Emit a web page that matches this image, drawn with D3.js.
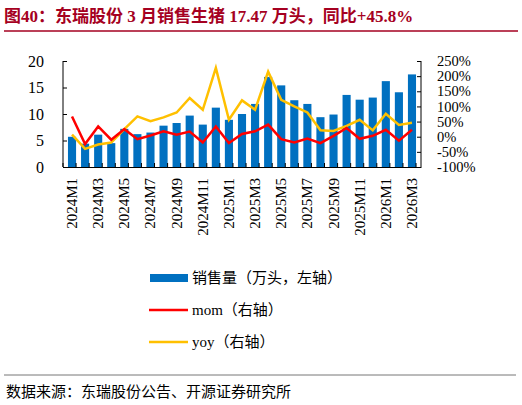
<!DOCTYPE html>
<html><head><meta charset="utf-8">
<script src="https://cdn.jsdelivr.net/npm/d3@7"></script>
<style>body{margin:0;background:#fff}text{font-family:"Liberation Serif","Noto Sans CJK SC",serif}</style>
</head><body><script>
var months = [];
[2024, 2025, 2026].forEach(function(y){ for (var m = 1; m <= 12; m++) if (!(y == 2026 && m > 3)) months.push(y + "M" + m); });
var sales = [5.7,4.4,6.1,4.5,7.2,6.2,6.5,7.8,8.3,9.7,8.0,11.2,8.9,10.0,11.9,17.0,15.4,12.6,11.9,9.4,9.9,13.6,12.7,13.1,16.2,14.1,17.47];
var mom = [67,-24,34,-10,25,-8,4,18,7,17,-19,34,-21,9,18,40,-8,-19,-6,-21,3,29,-7,3,23,-13,23];
var yoy = [7,-40,-26,-19,25,67,51,64,80,128,89,227,56,120,89,215,122,100,80,21,19,36,56,21,76,39,45.8];
var leftTicks = [0,5,10,15,20];
var rightTicks = [-100,-50,0,50,100,150,200,250];

var width = 522, height = 405;
var svg = d3.select("body").append("svg").attr("width", width).attr("height", height);

svg.append("text").attr("x", 4).attr("y", 22).attr("fill", "#a50021")
   .style("font-weight", "bold").style("font-size", "17px")
   .text("图40：东瑞股份 3 月销售生猪 17.47 万头，同比+45.8%");
svg.append("line").attr("x1", 4).attr("x2", 518).attr("y1", 31).attr("y2", 31).attr("stroke", "#a50021").attr("stroke-width", 1.5);

var x = d3.scaleBand().domain(months).range([63, 421]).padding(0.38);
var y = d3.scaleLinear().domain([0, 20]).range([167, 61]);
var y2 = d3.scaleLinear().domain([-100, 250]).range([167, 61]);

var g = svg.append("g");
g.selectAll("rect").data(sales).enter().append("rect")
  .attr("x", function(d, i){ return x(months[i]); })
  .attr("y", function(d){ return y(d); })
  .attr("width", x.bandwidth())
  .attr("height", function(d){ return y(0) - y(d); })
  .attr("fill", "#0070c0");

var xa = g.append("g").attr("transform", "translate(0,167)")
  .call(d3.axisBottom(x).tickSize(0).tickFormat(""));
xa.select(".domain").attr("stroke", "#000");
var step = x.step();
months.concat(["end"]).forEach(function(m, i){
  g.append("line").attr("x1", 63 + i * step).attr("x2", 63 + i * step).attr("y1", 167).attr("y2", 163).attr("stroke", "#000");
});
months.forEach(function(m, i){
  if (i % 2 == 0)
    g.append("text").attr("transform", "translate(" + (x(m) + x.bandwidth() / 2 + 5) + ",178) rotate(-90)")
      .attr("text-anchor", "end").style("font-size", "15px").text(m);
});

var ya = g.append("g").attr("transform", "translate(63,0)")
  .call(d3.axisLeft(y).tickValues(leftTicks).tickSize(5).tickPadding(14));
ya.selectAll("line").attr("x2", 4);
ya.selectAll("text").style("font-size", "16px").style("font-family", "Liberation Serif");
ya.select(".domain").attr("d", "M0,61V167");

var yb = g.append("g").attr("transform", "translate(421,0)")
  .call(d3.axisRight(y2).tickValues(rightTicks).tickSize(0).tickPadding(16).tickFormat(function(d){ return d + "%"; }));
yb.selectAll(".tick").append("line").attr("x1", -4).attr("x2", 0).attr("stroke", "#000");
yb.selectAll("text").style("font-size", "14.5px").style("font-family", "Liberation Serif");
yb.select(".domain").attr("d", "M0,61V167");

var line = d3.line().x(function(d, i){ return x(months[i]) + x.bandwidth() / 2; }).y(function(d){ return y2(d); });
g.append("path").datum(yoy).attr("d", line).attr("fill", "none").attr("stroke", "#ffc000").attr("stroke-width", 2.5);
g.append("path").datum(mom).attr("d", line).attr("fill", "none").attr("stroke", "#ff0000").attr("stroke-width", 2.5);

var legend = [
  {label: "销售量（万头，左轴）", type: "bar", color: "#0070c0"},
  {label: "mom（右轴）", type: "line", color: "#ff0000"},
  {label: "yoy（右轴）", type: "line", color: "#ffc000"}
];
legend.forEach(function(l, i){
  var ly = 278 + i * 32;
  if (l.type == "bar")
    svg.append("rect").attr("x", 150).attr("y", ly - 4).attr("width", 38).attr("height", 8).attr("fill", l.color);
  else
    svg.append("line").attr("x1", 149).attr("x2", 188).attr("y1", ly).attr("y2", ly).attr("stroke", l.color).attr("stroke-width", 2.5);
  svg.append("text").attr("x", 192).attr("y", ly + 5).style("font-size", "15px").text(l.label);
});

svg.append("line").attr("x1", 4).attr("x2", 516).attr("y1", 375).attr("y2", 375).attr("stroke", "#777").attr("stroke-width", 1);
svg.append("text").attr("x", 6).attr("y", 397).style("font-size", "15px").style("font-family", "Noto Sans CJK SC").text("数据来源：东瑞股份公告、开源证券研究所");
</script></body></html>
